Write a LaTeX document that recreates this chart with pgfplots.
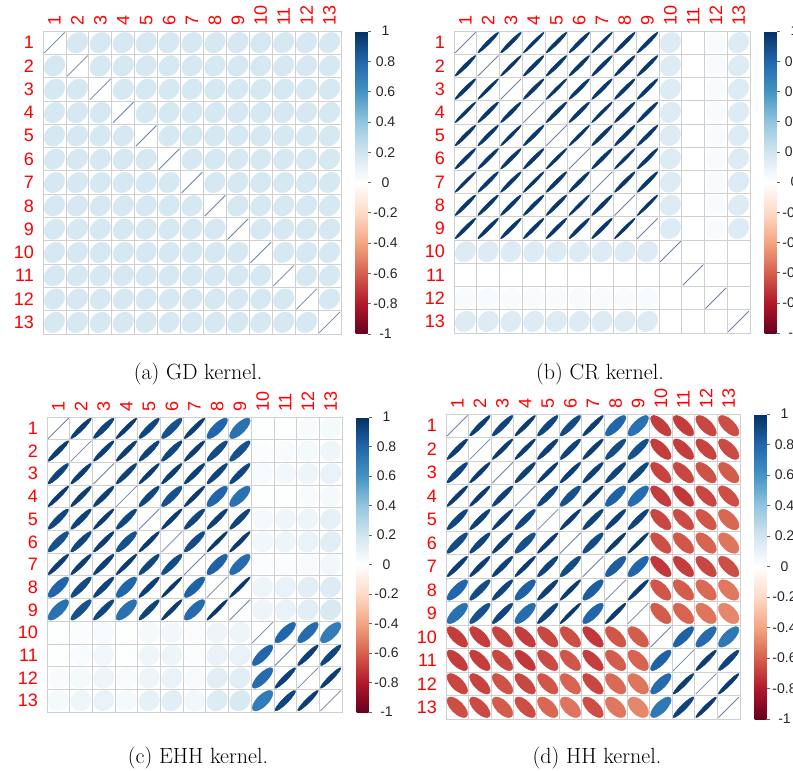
\documentclass[border=0pt]{standalone}
\usepackage{fontspec}
\usepackage{pgfplots}
\usepackage{pgfplotstable}
\pgfplotsset{compat=1.18}
\newfontfamily\rfont{Liberation Sans}
\definecolor{lblred}{RGB}{255,0,0}
\definecolor{gridc}{RGB}{208,208,208}
\definecolor{diagc}{RGB}{110,130,165}

\pgfplotsset{colormap={corrRdBu}{rgb255=(103,0,31) rgb255=(178,24,43) rgb255=(214,96,77) rgb255=(244,165,130) rgb255=(253,219,199) rgb255=(255,255,255) rgb255=(209,229,240) rgb255=(146,197,222) rgb255=(67,147,195) rgb255=(33,102,172) rgb255=(5,48,97)}}

\pgfdeclareplotmark{corr}{%
  \pgfmathsetmacro\rval{\pgfplotspointmetatransformed/500-1}%
  \pgfmathsetmacro\ra{7.3*sqrt(max(0,1+(\rval)))}%
  \pgfmathsetmacro\rb{7.3*sqrt(max(0,1-(\rval)))}%
  \ifdim\rval pt>0.995pt
    \pgfsetstrokecolor{diagc}\pgfsetlinewidth{0.8pt}%
    \pgfpathmoveto{\pgfpoint{-\ra pt}{-\ra pt}}%
    \pgfpathlineto{\pgfpoint{\ra pt}{\ra pt}}%
    \pgfusepathqstroke
  \else
    \pgfpathellipse{\pgfpointorigin}{\pgfpoint{\ra pt}{\ra pt}}{\pgfpoint{-\rb pt}{\rb pt}}%
    \pgfusepathqfillstroke
  \fi}

\pgfplotstableread{
c1 c2 c3 c4 c5 c6 c7 c8 c9 c10 c11 c12 c13
1 0.18 0.18 0.18 0.18 0.18 0.18 0.18 0.18 0.18 0.18 0.18 0.18
0.18 1 0.18 0.18 0.18 0.18 0.18 0.18 0.18 0.18 0.18 0.18 0.18
0.18 0.18 1 0.18 0.18 0.18 0.18 0.18 0.18 0.18 0.18 0.18 0.18
0.18 0.18 0.18 1 0.18 0.18 0.18 0.18 0.18 0.18 0.18 0.18 0.18
0.18 0.18 0.18 0.18 1 0.18 0.18 0.18 0.18 0.18 0.18 0.18 0.18
0.18 0.18 0.18 0.18 0.18 1 0.18 0.18 0.18 0.18 0.18 0.18 0.18
0.18 0.18 0.18 0.18 0.18 0.18 1 0.18 0.18 0.18 0.18 0.18 0.18
0.18 0.18 0.18 0.18 0.18 0.18 0.18 1 0.18 0.18 0.18 0.18 0.18
0.18 0.18 0.18 0.18 0.18 0.18 0.18 0.18 1 0.18 0.18 0.18 0.18
0.18 0.18 0.18 0.18 0.18 0.18 0.18 0.18 0.18 1 0.18 0.18 0.18
0.18 0.18 0.18 0.18 0.18 0.18 0.18 0.18 0.18 0.18 1 0.18 0.18
0.18 0.18 0.18 0.18 0.18 0.18 0.18 0.18 0.18 0.18 0.18 1 0.18
0.18 0.18 0.18 0.18 0.18 0.18 0.18 0.18 0.18 0.18 0.18 0.18 1
}\GDtab

\pgfplotstableread{
c1 c2 c3 c4 c5 c6 c7 c8 c9 c10 c11 c12 c13
1 0.97 0.97 0.98 0.97 0.97 0.98 0.97 0.97 0.15 0 0.03 0.15
0.97 1 0.98 0.97 0.97 0.97 0.97 0.97 0.97 0.15 0 0.03 0.15
0.97 0.98 1 0.97 0.98 0.97 0.97 0.97 0.97 0.15 0 0.03 0.15
0.98 0.97 0.97 1 0.97 0.97 0.98 0.97 0.97 0.15 0 0.03 0.15
0.97 0.97 0.98 0.97 1 0.98 0.97 0.97 0.97 0.15 0 0.03 0.15
0.97 0.97 0.97 0.97 0.98 1 0.97 0.98 0.97 0.15 0 0.03 0.15
0.98 0.97 0.97 0.98 0.97 0.97 1 0.97 0.97 0.15 0 0.03 0.15
0.97 0.97 0.97 0.97 0.97 0.98 0.97 1 0.98 0.15 0 0.03 0.15
0.97 0.97 0.97 0.97 0.97 0.97 0.97 0.98 1 0.15 0 0.03 0.15
0.15 0.15 0.15 0.15 0.15 0.15 0.15 0.15 0.15 1 0 0 0
0 0 0 0 0 0 0 0 0 0 1 0 0
0.03 0.03 0.03 0.03 0.03 0.03 0.03 0.03 0.03 0 0 1 0
0.15 0.15 0.15 0.15 0.15 0.15 0.15 0.15 0.15 0 0 0 1
}\CRtab

\pgfplotstableread{
c1 c2 c3 c4 c5 c6 c7 c8 c9 c10 c11 c12 c13
1 0.95 0.93 0.96 0.92 0.88 0.95 0.80 0.75 0.01 0.01 0.03 0.05
0.95 1 0.95 0.95 0.93 0.92 0.95 0.90 0.88 0.02 0.03 0.05 0.07
0.93 0.95 1 0.94 0.96 0.95 0.94 0.93 0.92 0.04 0.06 0.08 0.10
0.96 0.95 0.94 1 0.92 0.88 0.96 0.80 0.75 0.01 0.01 0.03 0.05
0.92 0.93 0.96 0.92 1 0.96 0.92 0.94 0.93 0.05 0.07 0.08 0.11
0.88 0.92 0.95 0.88 0.96 1 0.90 0.97 0.96 0.06 0.08 0.10 0.13
0.95 0.95 0.94 0.96 0.92 0.90 1 0.82 0.78 0.02 0.02 0.04 0.06
0.80 0.90 0.93 0.80 0.94 0.97 0.82 1 0.97 0.08 0.10 0.13 0.15
0.75 0.88 0.92 0.75 0.93 0.96 0.78 0.97 1 0.08 0.10 0.13 0.17
0.01 0.02 0.04 0.01 0.05 0.06 0.02 0.08 0.08 1 0.80 0.78 0.70
0.01 0.03 0.06 0.01 0.07 0.08 0.02 0.10 0.10 0.80 1 0.94 0.92
0.03 0.05 0.08 0.03 0.08 0.10 0.04 0.13 0.13 0.78 0.94 1 0.95
0.05 0.07 0.10 0.05 0.11 0.13 0.06 0.15 0.17 0.70 0.92 0.95 1
}\EHHtab

\pgfplotstableread{
c1 c2 c3 c4 c5 c6 c7 c8 c9 c10 c11 c12 c13
1 0.95 0.93 0.96 0.92 0.90 0.95 0.80 0.75 -0.70 -0.70 -0.67 -0.65
0.95 1 0.96 0.96 0.94 0.93 0.95 0.90 0.88 -0.70 -0.70 -0.68 -0.66
0.93 0.96 1 0.94 0.96 0.95 0.94 0.93 0.92 -0.68 -0.67 -0.64 -0.61
0.96 0.96 0.94 1 0.92 0.88 0.96 0.82 0.77 -0.70 -0.71 -0.67 -0.65
0.92 0.94 0.96 0.92 1 0.96 0.93 0.94 0.93 -0.67 -0.66 -0.63 -0.58
0.90 0.93 0.95 0.88 0.96 1 0.90 0.96 0.97 -0.65 -0.63 -0.59 -0.54
0.95 0.95 0.94 0.96 0.93 0.90 1 0.83 0.80 -0.71 -0.70 -0.67 -0.65
0.80 0.90 0.93 0.82 0.94 0.96 0.83 1 0.96 -0.63 -0.61 -0.57 -0.53
0.75 0.88 0.92 0.77 0.93 0.97 0.80 0.96 1 -0.61 -0.59 -0.54 -0.49
-0.70 -0.70 -0.68 -0.70 -0.67 -0.65 -0.71 -0.63 -0.61 1 0.82 0.78 0.72
-0.70 -0.70 -0.67 -0.71 -0.66 -0.63 -0.70 -0.61 -0.59 0.82 1 0.95 0.93
-0.67 -0.68 -0.64 -0.67 -0.63 -0.59 -0.67 -0.57 -0.54 0.78 0.95 1 0.96
-0.65 -0.66 -0.61 -0.65 -0.58 -0.54 -0.65 -0.53 -0.49 0.72 0.93 0.96 1
}\HHtab

\pgfplotsset{
  corrax/.style={
    scale only axis, anchor=north west,
    xmin=0.5, xmax=13.5, ymin=0.5, ymax=13.5, y dir=reverse,
    xtick={1,...,13}, ytick={1,...,13},
    xticklabels={1,2,3,4,5,6,7,8,9,10,11,12,13},
    yticklabels={1,2,3,4,5,6,7,8,9,10,11,12,13},
    minor xtick={0.5,1.5,...,13.5}, minor ytick={0.5,1.5,...,13.5},
    xminorgrids, yminorgrids,
    minor grid style={draw=gridc, line width=0.8pt},
    axis line style={draw=gridc, line width=0.8pt},
    major tick length=0pt, minor tick length=0pt,
    xticklabel pos=right,
    tick label style={font=\rfont\fontsize{18}{18}\selectfont, text=lblred},
    xticklabel style={rotate=90, anchor=west, inner sep=0pt},
    yticklabel style={anchor=east, inner sep=0pt},
    xticklabel shift=5pt, yticklabel shift=9pt,
    clip=false,
    point meta min=-1, point meta max=1,
    colormap name=corrRdBu,
    colorbar,
    colorbar style={
      width=12pt, at={(parent axis.north east)}, anchor=north west, xshift=6pt,
      y dir=normal, xminorgrids=false, yminorgrids=false,
      minor ytick={}, minor xtick={},
      ytick={-1,-0.8,-0.6,-0.4,-0.2,0,0.2,0.4,0.6,0.8,1},
      yticklabels={-1,-0.8,-0.6,-0.4,-0.2,0,0.2,0.4,0.6,0.8,1},
      ytick pos=right, yticklabel pos=right,
      tick align=outside, major tick length=3pt,
      ytick style={draw=black!60, line width=0.6pt},
      yticklabel style={font=\rfont\fontsize{14}{14}\selectfont, text=black!85, anchor=center, inner sep=0pt},
      yticklabel shift=15pt,
      axis line style={draw=none},
    },
  },
  corrplot/.style={scatter, only marks, mark=corr, point meta=explicit,
    scatter/use mapped color={draw=mapped color, fill=mapped color},
    mark options={line width=0.4pt}},
}

\newcommand\corrplots[1]{%
  \pgfplotsinvokeforeach{1,...,13}{%
    \addplot[corrplot]
      table[x expr=##1, y expr=\coordindex+1, meta=c##1]{#1};
  }}

\begin{document}
\begin{tikzpicture}
\path[use as bounding box] (0pt,0pt) rectangle (793pt,-771pt);
\begin{axis}[corrax, at={(43pt,-31pt)}, width=298pt, height=303pt]
\corrplots{\GDtab}
\end{axis}
\begin{axis}[corrax, at={(454pt,-31pt)}, width=296pt, height=302pt]
\corrplots{\CRtab}
\end{axis}
\begin{axis}[corrax, at={(47pt,-417pt)}, width=295pt, height=295pt]
\corrplots{\EHHtab}
\end{axis}
\begin{axis}[corrax, at={(446pt,-414pt)}, width=294pt, height=305pt]
\corrplots{\HHtab}
\end{axis}
\node[font=\fontsize{22}{26}\selectfont] at (198pt,-374pt) {(a) GD kernel.};
\node[font=\fontsize{22}{26}\selectfont] at (600pt,-374pt) {(b) CR kernel.};
\node[font=\fontsize{22}{26}\selectfont] at (198pt,-758pt) {(c) EHH kernel.};
\node[font=\fontsize{22}{26}\selectfont] at (597pt,-758pt) {(d) HH kernel.};
\end{tikzpicture}
\end{document}
